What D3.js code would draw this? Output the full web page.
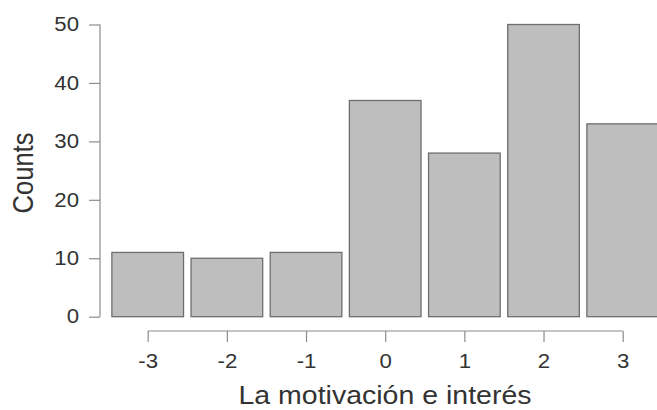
<!DOCTYPE html>
<html>
<head>
<meta charset="utf-8">
<script src="https://cdn.jsdelivr.net/npm/d3@7"></script>
<style>
  body { margin: 0; background: #fff; }
  svg text { font-family: "Liberation Sans", Arial, sans-serif; fill: #333; }
</style>
</head>
<body>
<div id="chart"></div>
<script>
// data
var categories = [-3, -2, -1, 0, 1, 2, 3];
var counts = [11, 10, 11, 37, 28, 50, 33];
var y_ticks = [0, 10, 20, 30, 40, 50];
var x_label = "La motivación e interés";
var y_label = "Counts";

var width = 657, height = 410;
// the source image is a bit wider than tall, text looks stretched sideways
var stretch = 1.14;

var svg = d3.select("#chart").append("svg")
	.attr("width", width)
	.attr("height", height);

var x = d3.scaleLinear().domain([-3, 3]).range([147.7, 622.7]);
var y = d3.scaleLinear().domain([0, 50]).range([316.7, 24.5]);

var step = x(1) - x(0);
var bar_w = step * 0.905;

// bars
svg.selectAll("rect.bar")
	.data(categories)
	.enter()
	.append("rect")
	.attr("class", "bar")
	.attr("x", function (d) { return x(d) - bar_w / 2; })
	.attr("y", function (d, i) { return y(counts[i]); })
	.attr("width", bar_w)
	.attr("height", function (d, i) { return y(0) - y(counts[i]); })
	.attr("fill", "#bebebe")
	.attr("stroke", "#6e6e6e")
	.attr("stroke-width", 1.3);

// y axis
var y_axis = d3.axisLeft(y)
	.tickValues(y_ticks)
	.tickSize(11)
	.tickPadding(10);

var gy = svg.append("g")
	.attr("transform", "translate(100,0)")
	.call(y_axis);

// x axis, hyphen instead of unicode minus
var x_axis = d3.axisBottom(x)
	.tickValues(categories)
	.tickSize(11)
	.tickPadding(12)
	.tickFormat(function (d) { return String(d); });

var gx = svg.append("g")
	.attr("transform", "translate(0,331)")
	.call(x_axis);

[gx, gy].forEach(function (g) {
	g.select(".domain").attr("stroke", "#8c8c8c").attr("stroke-width", 1.2);
	g.selectAll(".tick line").attr("stroke", "#8c8c8c").attr("stroke-width", 1.2);
	g.selectAll(".tick text")
		.attr("fill", "#333")
		.style("font-size", "19.5px")
		.style("font-family", "'Liberation Sans', Arial, sans-serif");
});
// move the x offset into a transform so the stretch keeps the anchor
gy.selectAll(".tick text").each(function () {
	var t = d3.select(this);
	var tx = +t.attr("x");
	t.attr("x", 0).attr("transform", "translate(" + tx + ",0) scale(" + stretch + ",1)");
});
gx.selectAll(".tick text").attr("transform", "scale(" + stretch + ",1)");

// no end caps on axis lines
gx.select(".domain").attr("d", "M" + x(-3) + ",0H" + x(3));
gy.select(".domain").attr("d", "M0," + y(0) + "V" + y(50));

// axis titles
svg.append("text")
	.attr("transform", "translate(385,404) scale(" + stretch + ",1)")
	.attr("text-anchor", "middle")
	.style("font-size", "25px")
	.text(x_label);

svg.append("text")
	.attr("transform", "translate(33,173) scale(" + stretch + ",1) rotate(-90)")
	.attr("text-anchor", "middle")
	.style("font-size", "25.5px")
	.text(y_label);
</script>
</body>
</html>
